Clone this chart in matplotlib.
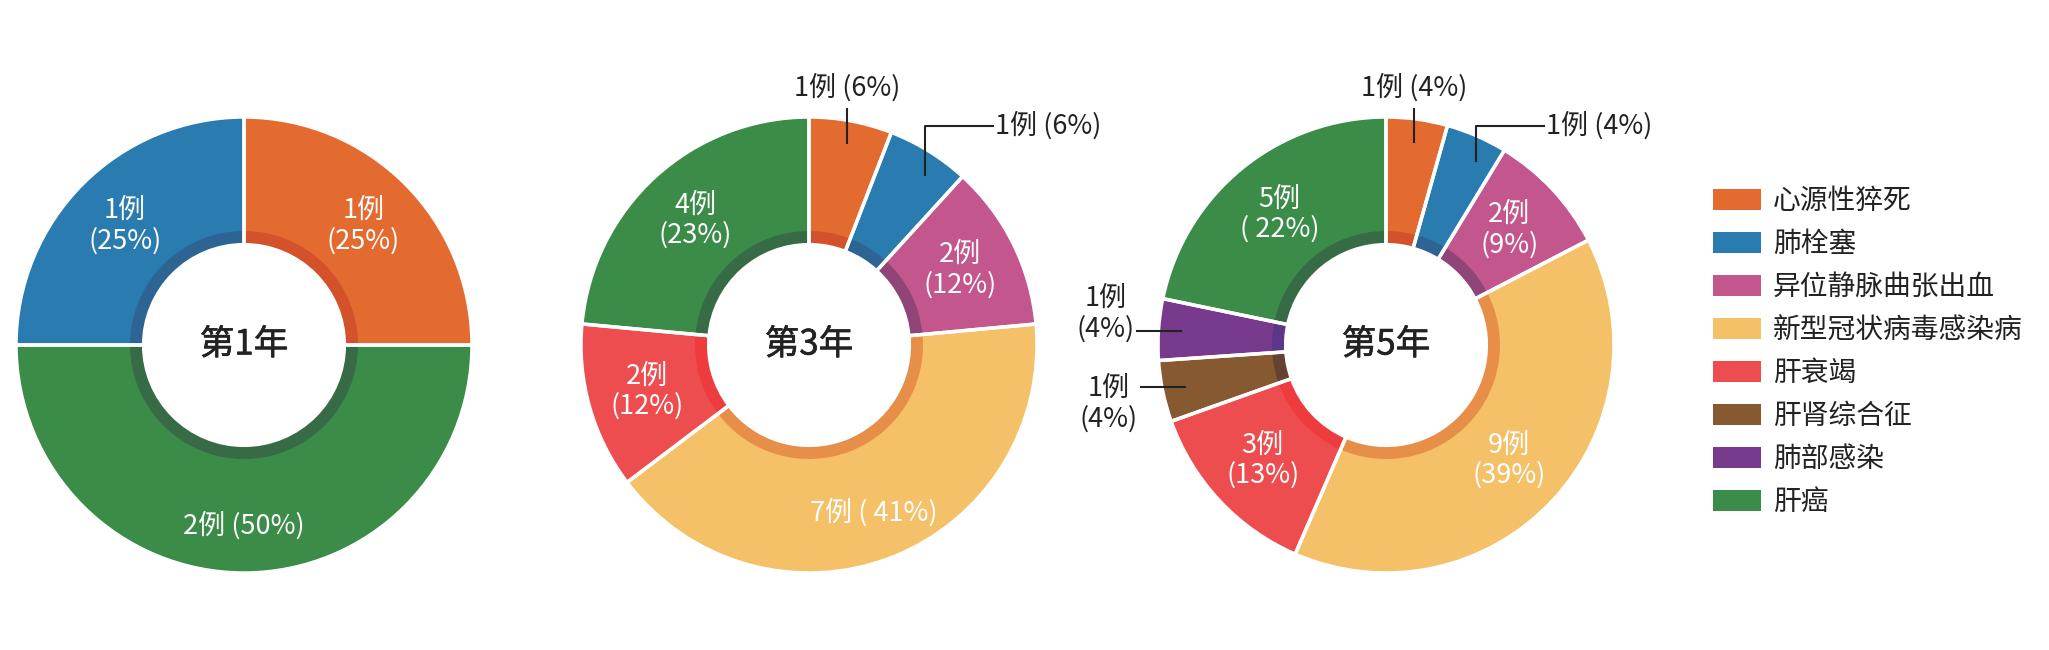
import numpy as np
import matplotlib
matplotlib.use('Agg')
from matplotlib import pyplot as plt
from matplotlib.patches import Patch
import matplotlib.patheffects as pe

plt.rcParams['font.family'] = ['Noto Sans CJK SC', 'DejaVu Sans']

# 死因分类（图例顺序）
categories = ['心源性猝死', '肺栓塞', '异位静脉曲张出血', '新型冠状病毒感染病',
              '肝衰竭', '肝肾综合征', '肺部感染', '肝癌']
colors = ['#E36B30', '#2A7BB0', '#C4568E', '#F4C168',
          '#EE4D50', '#875931', '#773A8D', '#3A8C48']
ring_colors = ['#D3522B', '#2D6494', '#8F4577', '#E78F48',
               '#EE3B3D', '#654130', '#5D3688', '#366B45']

years = ['第1年', '第3年', '第5年']

# 第1年
y1_cats = ['心源性猝死', '肝癌', '肺栓塞']
y1_vals = [1, 2, 1]
y1_labels = ['1例\n(25%)', '2例 (50%)', '1例\n(25%)']
y1_kind = ['in', 'in', 'in']

# 第3年
y3_cats = ['心源性猝死', '肺栓塞', '异位静脉曲张出血', '新型冠状病毒感染病', '肝衰竭', '肝癌']
y3_vals = [1, 1, 2, 7, 2, 4]
y3_labels = ['1例 (6%)', '1例 (6%)', '2例\n(12%)', '7例 ( 41%)', '2例\n(12%)', '4例\n(23%)']
y3_kind = ['top', 'right', 'in', 'in', 'in', 'in']

# 第5年
y5_cats = categories
y5_vals = [1, 1, 2, 9, 3, 1, 1, 5]
y5_labels = ['1例 (4%)', '1例 (4%)', '2例\n(9%)', '9例\n(39%)', '3例\n(13%)',
             '1例\n(4%)', '1例\n(4%)', '5例\n( 22%)']
y5_kind = ['top', 'right', 'in', 'in', 'in', 'left_low', 'left_high', 'in']

W, H = 2049, 650
fig = plt.figure(figsize=(W / 100, H / 100), dpi=100)
ax = fig.add_axes([0, 0, 1, 1])

R = 228
centers = [(244, H - 345), (809, H - 345), (1386, H - 345)]
line_col = '#222222'


def draw_donut(c, cats, vals, labels, kinds, title):
    cols = [colors[categories.index(k)] for k in cats]
    rcols = [ring_colors[categories.index(k)] for k in cats]
    ax.pie(vals, colors=cols, startangle=90, counterclock=False, radius=R, center=c,
           wedgeprops=dict(width=R * 0.56, linewidth=0))
    ax.pie(vals, colors=rcols, startangle=90, counterclock=False, radius=R * 0.50, center=c,
           wedgeprops=dict(width=R * 0.06, linewidth=0))
    # white separators on top
    ax.pie(vals, startangle=90, counterclock=False, radius=R, center=c,
           wedgeprops=dict(width=R * 0.56, facecolor='none', edgecolor='white', linewidth=2.5))
    ax.text(c[0], c[1], title, ha='center', va='center', fontsize=25, color='#222222',
            path_effects=[pe.withStroke(linewidth=0.45, foreground='#222222')])

    tot = sum(vals)
    edges = np.cumsum([0] + list(vals)) / tot * 360
    for i, (lab, kind) in enumerate(zip(labels, kinds)):
        mid_deg = (edges[i] + edges[i + 1]) / 2
        if kind == 'in':
            mid = np.deg2rad(mid_deg)
            r = 0.79 * R if '\n' not in lab else 0.74 * R
            x = c[0] + r * np.sin(mid)
            y = c[1] + r * np.cos(mid)
            ax.text(x, y, lab, ha='center', va='center', fontsize=19.5, color='white',
                    fontweight='light', multialignment='center', linespacing=1.15)
            continue
        if kind == 'right':
            mid_deg += 2.5
        mid = np.deg2rad(mid_deg)
        px = c[0] + 0.9 * R * np.sin(mid)
        py = c[1] + 0.9 * R * np.cos(mid)
        if kind == 'top':
            ty = H - 109
            ax.plot([px, px], [py, ty], color=line_col, lw=1.5)
            ax.text(px, H - 88, lab, ha='center', va='center', fontsize=19.5, color='#222222')
        elif kind == 'right':
            ty = H - 126
            xe = px + 68
            ax.plot([px, px, xe], [py, ty, ty], color=line_col, lw=1.5)
            ax.text(xe + 2, ty, lab, ha='left', va='center', fontsize=19.5, color='#222222')
        else:
            xe = px - 44
            ax.plot([px, xe], [py, py], color=line_col, lw=1.5)
            dy = -17 if kind == 'left_low' else 17
            ax.text(xe - 3, py + dy, lab, ha='right', va='center', fontsize=19.5,
                    color='#222222', multialignment='center', linespacing=1.15)


draw_donut(centers[0], y1_cats, y1_vals, y1_labels, y1_kind, years[0])
draw_donut(centers[1], y3_cats, y3_vals, y3_labels, y3_kind, years[1])
draw_donut(centers[2], y5_cats, y5_vals, y5_labels, y5_kind, years[2])

handles = [Patch(facecolor=col, edgecolor='none') for col in colors]
ax.legend(handles, categories, loc='upper left',
          bbox_to_anchor=(1713 / W, (H - 186) / H), frameon=False, fontsize=20,
          handlelength=1.73, handleheight=0.76, handletextpad=0.43,
          labelspacing=0.47, borderpad=0, borderaxespad=0, labelcolor='#222222')

ax.set_xlim(0, W)
ax.set_ylim(0, H)
ax.set_aspect('equal')
ax.axis('off')

fig.savefig('out.png', dpi=100, facecolor='white')
